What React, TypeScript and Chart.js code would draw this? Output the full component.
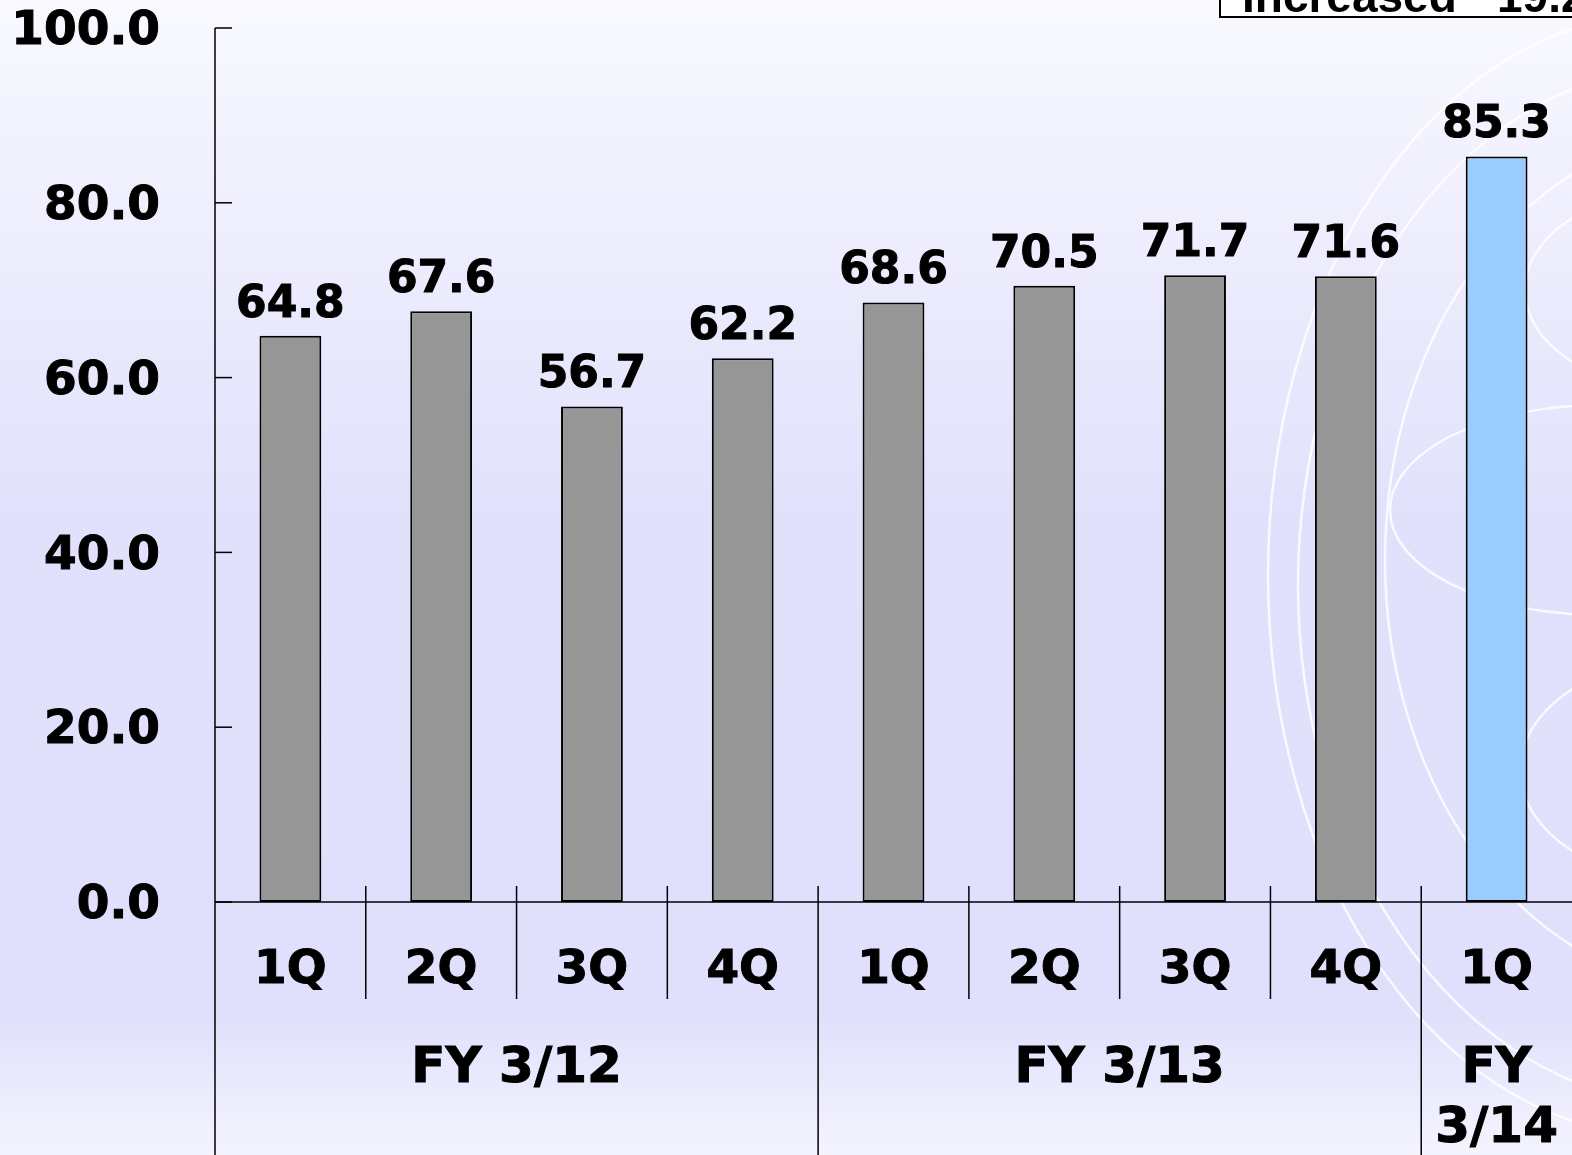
import { useEffect, useRef } from "react";
import { Chart, registerables } from "chart.js";

Chart.register(...registerables);

// ---- data ----
const quarterLabels = ["1Q", "2Q", "3Q", "4Q", "1Q", "2Q", "3Q", "4Q", "1Q"];
const seriesValues = [64.8, 67.6, 56.7, 62.2, 68.6, 70.5, 71.7, 71.6, 85.3];
const barColors = ["#969696", "#969696", "#969696", "#969696", "#969696", "#969696", "#969696", "#969696", "#99CCFF"];
const fiscalGroupLabels = [["FY 3/12"], ["FY 3/13"], ["FY", "3/14"]];
const fiscalGroupSizes = [4, 4, 1];
const yMin = 0;
const yMax = 100;
const yStep = 20;
const calloutWord = "Increased";
const calloutValue = "19.2";

const FONT = "'DejaVu Sans', Verdana, sans-serif";

const line = (ctx: CanvasRenderingContext2D, x1: number, y1: number, x2: number, y2: number) => {
  ctx.beginPath();
  ctx.moveTo(x1, y1);
  ctx.lineTo(x2, y2);
  ctx.stroke();
};

const boldText = (ctx: CanvasRenderingContext2D, txt: string, x: number, y: number) => {
  ctx.fillText(txt, x, y);
  ctx.strokeText(txt, x, y);
};

const decorPlugin = {
  id: "decor",
  beforeDraw(chart: any) {
    const { ctx, width, height } = chart;
    ctx.save();
    const g = ctx.createLinearGradient(0, 0, 0, height);
    g.addColorStop(0, "#F9F9FF");
    g.addColorStop(0.25, "#EBEBFD");
    g.addColorStop(0.45, "#E1E1FC");
    g.addColorStop(0.88, "#E0E0FC");
    g.addColorStop(1, "#F4F4FF");
    ctx.fillStyle = g;
    ctx.fillRect(0, 0, width, height);
    // faint decorative rings
    ctx.strokeStyle = "rgba(255,255,255,0.8)";
    ctx.lineWidth = 2.5;
    const rings: number[][] = [
      [1660, 575, 392, 560],
      [1690, 585, 392, 520],
      [1720, 560, 335, 430],
      [1600, 510, 210, 105],
      [1680, 290, 155, 100],
      [1700, 770, 180, 115],
    ];
    rings.forEach(([cx, cy, rx, ry]) => {
      ctx.beginPath();
      ctx.ellipse(cx, cy, rx, ry, 0, 0, Math.PI * 2);
      ctx.stroke();
    });
    ctx.restore();
  },
  afterDatasetsDraw(chart: any) {
    const { ctx } = chart;
    const meta = chart.getDatasetMeta(0);
    ctx.save();
    ctx.fillStyle = "#000";
    ctx.strokeStyle = "#000";
    ctx.lineWidth = 1;
    ctx.font = `bold 44px ${FONT}`;
    ctx.textAlign = "center";
    ctx.textBaseline = "alphabetic";
    meta.data.forEach((bar: any, i: number) => {
      boldText(ctx, seriesValues[i].toFixed(1), bar.x, bar.y - 19);
    });
    ctx.restore();
  },
  afterDraw(chart: any) {
    const { ctx, width, height } = chart;
    const xs = chart.scales.x;
    const ys = chart.scales.y;
    const left = xs.left;
    const base = ys.getPixelForValue(yMin);
    const top = ys.getPixelForValue(yMax);
    const half = (xs.getPixelForValue(1) - xs.getPixelForValue(0)) / 2;
    ctx.save();
    ctx.strokeStyle = "#000";
    ctx.lineWidth = 1.5;
    // axes
    line(ctx, left, top, left, height);
    line(ctx, left, base, width, base);
    // inward tick marks
    ys.ticks.forEach((t: any) => {
      const py = ys.getPixelForValue(t.value);
      line(ctx, left, py, left + 17, py);
    });
    // separators
    let start = 0;
    fiscalGroupSizes.forEach((n, gi) => {
      for (let k = 1; k < n; k++) {
        const px = xs.getPixelForValue(start + k) - half;
        line(ctx, px, base - 16, px, 999);
      }
      const gx1 = xs.getPixelForValue(start + n - 1) + half;
      if (gi < fiscalGroupSizes.length - 1) {
        line(ctx, gx1, base - 16, gx1, height);
      }
      start += n;
    });
    // group labels
    ctx.fillStyle = "#000";
    ctx.lineWidth = 1;
    ctx.font = `bold 50px ${FONT}`;
    ctx.textAlign = "center";
    ctx.textBaseline = "alphabetic";
    start = 0;
    fiscalGroupSizes.forEach((n, gi) => {
      const gx0 = xs.getPixelForValue(start) - half;
      const gx1 = xs.getPixelForValue(start + n - 1) + half;
      const cx = (gx0 + gx1) / 2;
      fiscalGroupLabels[gi].forEach((txt, li) => {
        boldText(ctx, txt, cx, 1082 + li * 60);
      });
      start += n;
    });
    // callout box (cut off at the top right)
    ctx.fillStyle = "#FFFFFF";
    ctx.fillRect(1220, -10, 400, 27);
    ctx.lineWidth = 2;
    ctx.strokeRect(1220, -10, 400, 27);
    ctx.fillStyle = "#000";
    ctx.textAlign = "left";
    ctx.font = "bold 46px 'Liberation Sans', Arial, sans-serif";
    ctx.fillText(calloutWord, 1242, 12);
    ctx.fillText(calloutValue, 1497, 12);
    ctx.restore();
  },
};

export default function App() {
  const ref = useRef<HTMLCanvasElement | null>(null);
  useEffect(() => {
    if (!ref.current) return;
    document.body.style.margin = "0";
    const chart = new Chart(ref.current, {
      type: "bar",
      data: {
        labels: quarterLabels,
        datasets: [
          {
            data: seriesValues,
            backgroundColor: barColors,
            borderColor: "#000",
            borderWidth: 2,
            borderSkipped: false,
            barPercentage: 0.41,
            categoryPercentage: 1,
          },
        ],
      },
      options: {
        responsive: false,
        animation: false,
        devicePixelRatio: 1,
        layout: { padding: { top: 28, right: -1, left: 0, bottom: 0 } },
        plugins: { legend: { display: false }, tooltip: { enabled: false } },
        scales: {
          x: {
            grid: { display: false, drawTicks: false },
            border: { display: false },
            ticks: {
              color: "#000",
              font: { family: FONT, size: 47, weight: "bold" },
              padding: 41,
              maxRotation: 0,
              textStrokeColor: "#000",
              textStrokeWidth: 1,
            },
            afterFit: (s: any) => {
              s.height = 253;
              s.paddingLeft = 0;
              s.paddingRight = 0;
            },
          },
          y: {
            min: yMin,
            max: yMax,
            grid: { display: false, drawTicks: false },
            border: { display: false },
            ticks: {
              stepSize: yStep,
              color: "#000",
              padding: 55,
              labelOffset: 4,
              font: { family: FONT, size: 47, weight: "bold" },
              textStrokeColor: "#000",
              textStrokeWidth: 1,
              callback: (v: any) => Number(v).toFixed(1),
            },
            afterFit: (s: any) => {
              s.width = 215;
              s.paddingTop = 0;
              s.paddingBottom = 0;
            },
          },
        },
      },
      plugins: [decorPlugin],
    });
    return () => chart.destroy();
  }, []);
  return (
    <div style={{ position: "absolute", left: 0, top: 0, width: 1572, height: 1155 }}>
      <canvas ref={ref} width={1572} height={1155} style={{ display: "block" }} />
    </div>
  );
}
